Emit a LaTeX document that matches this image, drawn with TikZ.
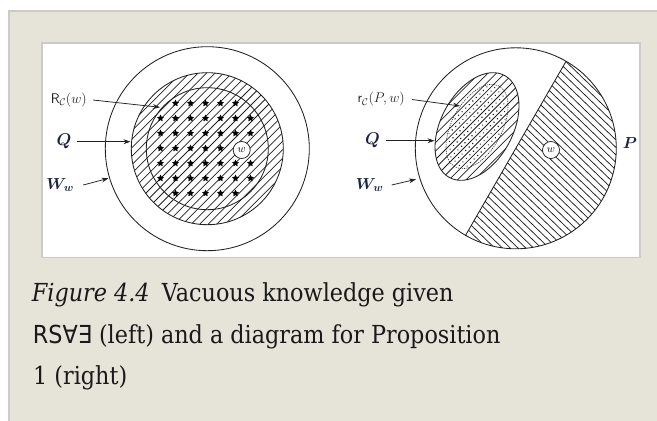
\RequirePackage{fix-cm}
\documentclass[tikz,border=0pt]{standalone}
\usepackage{fontspec}
\usepackage{bm}
\usetikzlibrary{arrows.meta,shapes.geometric,calc}
\newfontfamily\capfont{DejaVu Serif Condensed}
\newfontfamily\capsans{DejaVu Sans Condensed}
\definecolor{beige}{HTML}{E6E3D9}
\definecolor{frame}{HTML}{CBCBCB}
\definecolor{ink}{HTML}{222222}
\definecolor{navy}{HTML}{1C2440}
\tikzset{
  ring/.style={draw=ink,line width=0.85pt},
  hatch/.style={draw=ink,line width=0.75pt},
  arr/.style={draw=ink,line width=0.75pt,-{Stealth[length=7pt,width=4.8pt]}},
  lbl/.style={anchor=east,inner ysep=0pt,text=ink},
  wcirc/.style={circle,draw=ink,line width=0.75pt,fill=white,minimum size=17pt,inner sep=0pt,font=\fontsize{11}{12}\selectfont},
  starnode/.style={star,star points=5,star point ratio=2.1,minimum size=7.5pt,inner sep=0pt,fill=black},
  capt/.style={anchor=base west,inner sep=0pt,text=black!90,font=\capfont\fontsize{24.8}{30}\selectfont},
}
\begin{document}
\begin{tikzpicture}[x=1pt,y=1pt]
\useasboundingbox (0,0) rectangle (657,421);
% background and frames
\fill[white] (0,0) rectangle (657,421);
\fill[beige] (8,0) rectangle (657,411);
\draw[frame,line width=2pt] (9,0) -- (9,410) -- (657,410);
\fill[white] (41,163) rectangle (641,379);
\draw[frame,line width=1.6pt] (41.8,163.3) rectangle (640.2,378.2);

% ---------------- left diagram ----------------
\coordinate (L) at (207.3,272.3);
\begin{scope}
  \clip (L) circle[radius=76];
  \begin{scope}[shift={(L)},rotate=-45]
    \foreach \k in {-13,...,13} \draw[hatch] (\k*6,-80) -- (\k*6,80);
  \end{scope}
\end{scope}
\foreach \i in {-4,...,4}{
  \foreach \j in {-4,...,4}{
    \pgfmathsetmacro\dx{-1.8+15*\i}
    \pgfmathsetmacro\dy{0.4+15*\j}
    \pgfmathsetmacro\rr{sqrt(\dx*\dx+\dy*\dy)}
    \pgfmathsetmacro\rw{sqrt((\dx-34.4)*(\dx-34.4)+(\dy+1.3)*(\dy+1.3))}
    \pgfmathtruncatemacro\ok{and(\rr<56,\rw>13)}
    \ifnum\ok=1 \node[starnode] (st\i\j) at ($(L)+(\dx,\dy)$) {};\fi
  }
}
\draw[ring] (L) circle[radius=102];
\draw[ring] (L) circle[radius=76];
\draw[ring] (L) circle[radius=61];
\node[wcirc] (wL) at (241.7,271) {$w$};

\node[lbl,inner xsep=6pt,font=\fontsize{14}{16}\selectfont] (rcL) at (93,321) {$\mathsf{R}_{\mathcal{C}}(w)$};
\coordinate (rcLt) at (160,313.7);
\draw[arr] (rcL.east) -- (rcLt);
\node[lbl,inner xsep=5pt,text=navy,font=\fontsize{17}{19}\selectfont] (qL) at (76.7,279.3) {$\bm{Q}$};
\coordinate (qLt) at (130.5,279.3);
\draw[arr] (qL.east) -- (qLt);
\node[lbl,inner xsep=9pt,text=navy,font=\fontsize{16}{18}\selectfont] (wwL) at (83.3,236) {$\bm{W_w}$};
\coordinate (wwLt) at (108.5,242.7);
\draw[arr] (wwL.east) -- (wwLt);

% ---------------- right diagram ----------------
\coordinate (R) at (515.8,272.7);
\coordinate (A) at ($(R)+(60:100.5)$);
\coordinate (B) at ($(R)+(240:100.5)$);
\begin{scope}
  \clip (A) arc[start angle=60,end angle=-120,radius=100.5] -- cycle;
  \begin{scope}[shift={(R)},rotate=46]
    \foreach \k in {-20,...,20} \draw[hatch] (\k*5.4,-110) -- (\k*5.4,110);
  \end{scope}
\end{scope}
\draw[ring] (R) circle[radius=100.5];
\draw[ring] (A) -- (B);
\node[wcirc] (wR) at (551,271) {$w$};

\coordinate (E) at (477,294.5);
\begin{scope}
  \clip[rotate around={61.6:(E)}] (E) ellipse[x radius=58,y radius=36];
  \begin{scope}[shift={(E)},rotate=-45]
    \foreach \k in {-12,...,12} \draw[hatch] (\k*6,-70) -- (\k*6,70);
  \end{scope}
\end{scope}
\begin{scope}
  \clip[rotate around={61.6:(E)}] (E) ellipse[x radius=45,y radius=24];
  \begin{scope}[shift={(E)},rotate=-45]
    \foreach \i in {-9,...,9}{\foreach \j in {-10,...,10}{\fill[ink] (\i*6+3,\j*5) circle[radius=0.8];}}
  \end{scope}
\end{scope}
\draw[ink,line width=0.55pt,dash pattern=on 1.2pt off 1pt,rotate around={61.6:(E)}] (E) ellipse[x radius=46,y radius=25];
\draw[ring,rotate around={61.6:(E)}] (E) ellipse[x radius=58,y radius=36];

\node[anchor=base,inner sep=0pt,text=navy,font=\fontsize{16}{18}\selectfont] (pR) at (630,272) {$\bm{P}$};

\node[lbl,inner xsep=7pt,font=\fontsize{14}{16}\selectfont] (rcR) at (412,321.5) {$\mathsf{r}_{\mathcal{C}}(P,w)$};
\coordinate (rcRt) at (460,315);
\draw[arr] (rcR.east) -- (rcRt);
\node[lbl,inner xsep=5.7pt,text=navy,font=\fontsize{17}{19}\selectfont] (qR) at (385.7,280.3) {$\bm{Q}$};
\coordinate (qRt) at (434.5,280.3);
\draw[arr] (qR.east) -- (qRt);
\node[lbl,inner xsep=8pt,text=navy,font=\fontsize{16}{18}\selectfont] (wwR) at (391.7,236) {$\bm{W_w}$};
\coordinate (wwRt) at (416,241.7);
\draw[arr] (wwR.east) -- (wwRt);

% ---------------- caption ----------------
\node[capt] (cap1) at (31.7,119.3) {\textit{Figure 4.4}\hspace{0.5em}Vacuous knowledge given};
\node[capt] (cap2) at (32.7,77.7) {{\capsans RS∀∃} (left) and a diagram for Proposition};
\node[capt] (cap3) at (33,36) {1 (right)};
\end{tikzpicture}
\end{document}
